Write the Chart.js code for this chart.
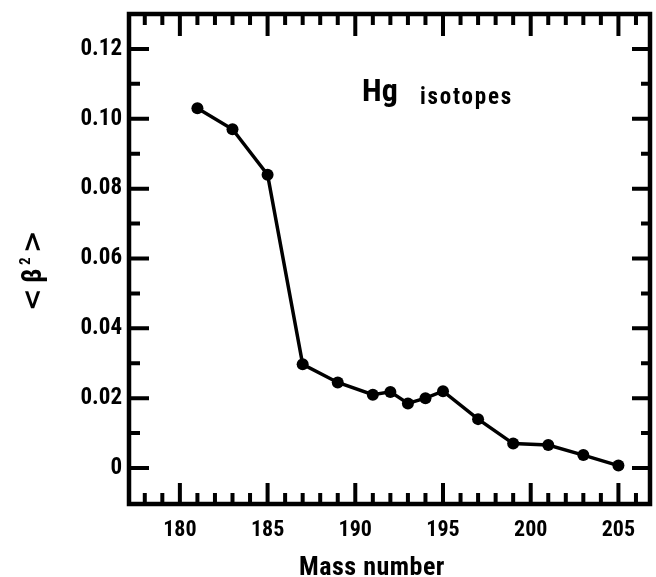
<!DOCTYPE html>
<html>
<head>
<meta charset="utf-8">
<script src="https://cdn.jsdelivr.net/npm/chart.js@4.4.1/dist/chart.umd.min.js"></script>
<style>
html,body{margin:0;padding:0;background:#fff;}
#wrap{width:656px;height:577px;position:relative;}
</style>
</head>
<body>
<div id="wrap"><canvas id="c" width="656" height="577"></canvas></div>
<script>
// ---- data ----
const massNumbers = [181, 183, 185, 187, 189, 191, 192, 193, 194, 195, 197, 199, 201, 203, 205];
const beta2 = [0.103, 0.097, 0.084, 0.0297, 0.0245, 0.021, 0.0218, 0.0185, 0.020, 0.022, 0.014, 0.007, 0.0066, 0.0037, 0.0007];
const xTickValues = [180, 185, 190, 195, 200, 205];
const yTickValues = [0, 0.02, 0.04, 0.06, 0.08, 0.10, 0.12];
const xAxisTitle = 'Mass number';
const annotationMain = 'Hg';
const annotationSub = 'isotopes';

const FONT = "'Roboto Condensed', 'DejaVu Sans Condensed', sans-serif";

const framePlugin = {
  id: 'frame',
  afterDraw(chart) {
    const ctx = chart.ctx;
    const a = chart.chartArea;
    const xs = chart.scales.x, ys = chart.scales.y;
    ctx.save();
    ctx.strokeStyle = '#000';
    ctx.lineCap = 'butt';
    ctx.lineWidth = 4;
    for (let v = 178; v <= 206; v++) {
      const px = xs.getPixelForValue(v);
      const major = v % 5 === 0;
      ctx.beginPath();
      ctx.moveTo(px, a.bottom); ctx.lineTo(px, a.bottom - (major ? 21 : 11));
      ctx.moveTo(px, a.top); ctx.lineTo(px, a.top + (major ? 22 : 11));
      ctx.stroke();
    }
    for (let k = 0; k <= 12; k++) {
      const py = ys.getPixelForValue(k / 100);
      const major = k % 2 === 0;
      ctx.beginPath();
      ctx.moveTo(a.left, py); ctx.lineTo(a.left + (major ? 20 : 11), py);
      ctx.moveTo(a.right, py); ctx.lineTo(a.right - (major ? 18 : 9), py);
      ctx.stroke();
    }
    ctx.lineWidth = 4.5;
    ctx.strokeRect(a.left, a.top, a.right - a.left, a.bottom - a.top);

    ctx.fillStyle = '#000';
    ctx.textBaseline = 'alphabetic';
    ctx.textAlign = 'left';
    ctx.font = "bold 32px " + FONT;
    ctx.fillText(annotationMain, 362, 101);
    ctx.font = "bold 23px " + FONT;
    if ('letterSpacing' in ctx) ctx.letterSpacing = '1.8px';
    ctx.fillText(annotationSub, 420, 104);
    if ('letterSpacing' in ctx) ctx.letterSpacing = '0.5px';

    ctx.textAlign = 'center';
    ctx.font = "bold 26px " + FONT;
    ctx.fillText(xAxisTitle, 372, 575);
    if ('letterSpacing' in ctx) ctx.letterSpacing = '0px';

    // y-axis title <β²>
    ctx.save();
    ctx.translate(41, 270);
    ctx.rotate(-Math.PI / 2);
    ctx.textAlign = 'left';
    ctx.font = "bold 27px 'DejaVu Sans', sans-serif";
    ctx.fillText('<', -41, 0);
    ctx.font = "bold 27px " + FONT;
    ctx.fillText('\u03B2', -13, 0);
    ctx.font = "bold 15px " + FONT;
    ctx.fillText('2', 5, -11);
    ctx.font = "bold 27px 'DejaVu Sans', sans-serif";
    ctx.fillText('>', 17, 0);
    ctx.restore();

    ctx.restore();
  }
};

new Chart(document.getElementById('c'), {
  type: 'line',
  data: {
    datasets: [{
      data: massNumbers.map((m, i) => ({ x: m, y: beta2[i] })),
      borderColor: '#000',
      backgroundColor: '#000',
      borderWidth: 3.5,
      tension: 0,
      pointRadius: 6,
      pointBorderWidth: 0,
      pointBackgroundColor: '#000',
      fill: false
    }]
  },
  options: {
    responsive: false,
    animation: false,
    devicePixelRatio: 1,
    layout: { padding: { top: 14, right: 4, left: 0, bottom: 0 } },
    plugins: { legend: { display: false }, tooltip: { enabled: false }, title: { display: false } },
    scales: {
      x: {
        type: 'linear',
        min: 177.1, max: 206.8,
        grid: { display: false, drawTicks: false },
        border: { display: false },
        afterBuildTicks: s => { s.ticks = xTickValues.map(v => ({ value: v })); },
        afterFit: s => { s.height = 73; s.paddingLeft = 0; s.paddingRight = 0; },
        ticks: {
          padding: 13,
          color: '#000',
          font: { family: FONT, size: 22, weight: 'bold' },
          maxRotation: 0,
          callback: v => String(v)
        }
      },
      y: {
        type: 'linear',
        min: -0.0103, max: 0.130,
        grid: { display: false, drawTicks: false },
        border: { display: false },
        afterBuildTicks: s => { s.ticks = yTickValues.map(v => ({ value: v })); },
        afterFit: s => { s.width = 129; s.paddingTop = 0; s.paddingBottom = 0; },
        ticks: {
          padding: 7,
          color: '#000',
          font: { family: FONT, size: 23, weight: 'bold' },
          callback: v => (v === 0 ? '0' : v.toFixed(2))
        }
      }
    }
  },
  plugins: [framePlugin]
});
</script>
</body>
</html>
